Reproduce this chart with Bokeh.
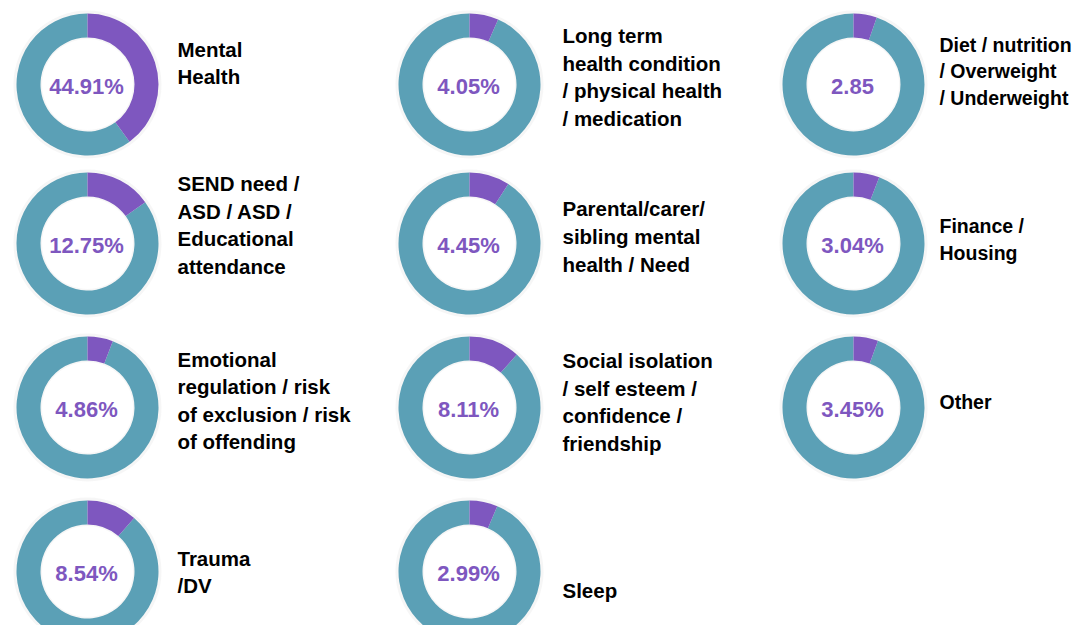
import math
from bokeh.plotting import figure
from bokeh.models import ColumnDataSource, Range1d
from bokeh.core.properties import value
from bokeh.embed import file_html
from bokeh.resources import INLINE

# ---- data (row-major order as in the picture) ----
categories = [
    "Mental\nHealth",
    "Long term\nhealth condition\n/ physical health\n/ medication",
    "Diet / nutrition\n/ Overweight\n/ Underweight",
    "SEND need /\nASD / ASD /\nEducational\nattendance",
    "Parental/carer/\nsibling mental\nhealth / Need",
    "Finance  /\nHousing",
    "Emotional\nregulation / risk\nof exclusion /  risk\nof offending",
    "Social  isolation\n/ self esteem /\nconfidence /\nfriendship",
    "Other",
    "Trauma\n/DV",
    "Sleep",
]
value_labels = ["44.91%", "4.05%", "2.85", "12.75%", "4.45%", "3.04%",
                "4.86%", "8.11%", "3.45%", "8.54%", "2.99%"]
# share of each ring drawn in purple (%)
wedge_share = [39.9, 6.6, 5.3, 15.1, 9.2, 5.9, 5.8, 11.6, 5.6, 11.4, 6.4]

# ---- layout ----
W, H = 1076, 625
col_x = [87, 469, 853]
row_top = [84, 243, 407, 571]
label_dx = [90, 93, 86]
label_size = ["20.5px", "20.5px", "19.5px"]
label_dy = [21.5, 7.5, 13.3, 18.5, 7.0, 4.0, 7.0, 5.3, 6.0, -0.5, -18.5]
R_IN, R_OUT = 47, 71
TEAL = "#5BA0B6"
PURPLE = "#7E57BF"

cx, cy, s0, s1, tx, ty, lx, ly, fs = [], [], [], [], [], [], [], [], []
for i, share in enumerate(wedge_share):
    r, c = divmod(i, 3)
    x, y = col_x[c], H - row_top[r]
    cx.append(x)
    cy.append(y)
    start = math.pi / 2
    end = math.pi / 2 - share / 100.0 * 2 * math.pi
    s0.append(start)
    s1.append(end)
    tx.append(x - 1)
    ty.append(y - 2)
    lx.append(x + label_dx[c])
    ly.append(y + label_dy[i])
    fs.append(label_size[c])

src = ColumnDataSource(dict(cx=cx, cy=cy, s0=s0, s1=s1, tx=tx, ty=ty,
                            lx=lx, ly=ly, fs=fs, cat=categories,
                            val=value_labels))

p = figure(width=W, height=H, output_backend="svg", toolbar_location=None,
           x_range=Range1d(0, W), y_range=Range1d(0, H),
           x_axis_type=None, y_axis_type=None, min_border=0)
p.grid.visible = False
p.outline_line_color = None
p.background_fill_color = "white"

# soft shadow
p.annulus(x="cx", y="cy", inner_radius=R_IN - 1.5, outer_radius=R_OUT + 3,
          inner_radius_units="screen", outer_radius_units="screen",
          fill_color="#888888", fill_alpha=0.08, line_color=None, source=src)
# teal remainder
p.annular_wedge(x="cx", y="cy", inner_radius=R_IN, outer_radius=R_OUT,
                inner_radius_units="screen", outer_radius_units="screen",
                start_angle="s1", end_angle="s0", direction="clock",
                fill_color=TEAL, line_color=None, source=src)
# purple share
p.annular_wedge(x="cx", y="cy", inner_radius=R_IN, outer_radius=R_OUT,
                inner_radius_units="screen", outer_radius_units="screen",
                start_angle="s0", end_angle="s1", direction="clock",
                fill_color=PURPLE, line_color=None, source=src)

p.text(x="tx", y="ty", text="val", source=src,
       text_font=value("Liberation Sans"), text_font_style="bold",
       text_font_size="22px", text_color=PURPLE,
       text_align="center", text_baseline="middle")

p.text(x="lx", y="ly", text="cat", source=src,
       text_font=value("Liberation Sans"), text_font_style="bold",
       text_font_size="fs", text_color="#000000",
       text_align="left", text_baseline="middle", text_line_height=1.2)

open("out.html", "w").write(file_html(p, INLINE))
